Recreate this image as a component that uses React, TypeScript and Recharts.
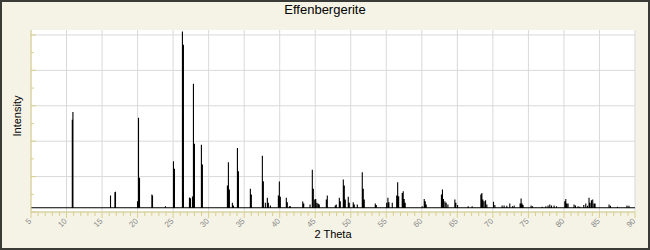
import React from 'react';
import { LineChart, Line, XAxis, YAxis, CartesianGrid } from 'recharts';

const chartTitle = 'Effenbergerite';
const xLabel = '2 Theta';
const yLabel = 'Intensity';

const baseline = 2.4;

const peakPos = [
  10.81, 10.9, 16.19, 16.81, 16.89, 19.99, 20.13, 20.27, 22.01, 22.1,
  23.92, 25.05, 25.19, 26.31, 26.45, 27.3, 27.44, 27.72, 27.86, 28.0,
  28.98, 29.12, 32.64, 32.78, 32.92, 33.34, 33.48, 34.05, 34.19, 35.87,
  36.01, 37.56, 37.7, 37.98, 38.26, 38.4, 38.69, 39.81, 39.95, 40.09,
  40.93, 41.07, 41.36, 41.5, 43.24, 43.38, 44.27, 44.59, 44.73, 44.93,
  45.07, 45.25, 45.43, 45.57, 46.56, 46.7, 47.82, 47.96, 48.39, 48.53,
  48.95, 49.09, 49.23, 49.65, 49.79, 50.35, 50.49, 50.92, 51.62, 51.76,
  51.9, 53.45, 53.59, 55.05, 55.23, 55.37, 55.84, 56.46, 56.6, 56.74,
  57.24, 57.38, 57.52, 57.66, 60.05, 60.34, 60.48, 60.62, 62.76, 62.9,
  63.04, 63.25, 63.43, 63.67, 64.65, 64.79, 65.03, 66.52, 67.08, 68.31,
  68.45, 68.59, 68.77, 68.97, 69.15, 70.09, 70.28, 71.3, 71.58, 71.96,
  72.38, 72.76, 72.99, 73.83, 73.97, 74.11, 74.25, 75.38, 75.58, 76.93,
  77.45, 77.77, 78.01, 78.25, 78.61, 78.95, 80.12, 80.26, 80.4, 80.58,
  81.42, 81.62, 81.99, 82.23, 82.79, 83.07, 83.31, 83.53, 83.67, 83.87,
  84.05, 84.24, 84.38, 86.35, 86.55, 87.53, 88.87, 89.15,
];

const peakInt = [
  52.1, 56.5, 9.3, 11.2, 11.5, 6.1, 53.2, 19.4, 9.9, 9.3,
  3.3, 28.6, 24.5, 101.9, 94.4, 8.2, 7.8, 8.7, 72.4, 38.6,
  38.0, 26.8, 14.9, 28.1, 12.7, 5.2, 3.7, 36.2, 23.0, 13.2,
  9.9, 31.8, 17.4, 5.2, 8.0, 5.2, 3.7, 9.3, 17.2, 8.6,
  8.0, 5.5, 3.3, 3.3, 5.9, 4.8, 4.2, 23.9, 13.1, 7.0,
  7.4, 5.2, 4.6, 4.2, 7.0, 9.3, 3.7, 4.2, 8.0, 6.1,
  18.3, 14.9, 7.0, 8.6, 5.2, 5.5, 4.2, 4.2, 22.4, 13.2,
  7.0, 4.8, 3.9, 5.2, 8.0, 5.5, 5.2, 9.3, 16.8, 8.9,
  10.8, 11.7, 7.4, 5.2, 3.3, 7.4, 6.1, 4.2, 9.9, 12.7,
  7.4, 6.1, 5.2, 4.2, 7.0, 5.2, 3.9, 3.3, 3.3, 9.9,
  10.8, 7.0, 6.1, 6.6, 4.2, 5.8, 3.9, 3.7, 3.7, 3.5,
  4.8, 3.3, 3.7, 4.8, 7.6, 4.8, 3.9, 3.7, 3.3, 3.0,
  3.3, 3.7, 4.2, 3.7, 3.7, 3.3, 6.1, 7.4, 4.8, 4.8,
  4.2, 3.7, 3.3, 3.0, 3.9, 4.8, 3.5, 8.0, 5.2, 6.6,
  7.0, 4.8, 4.8, 4.2, 3.5, 3.0, 3.7, 3.5,
];

const xMajorTicks = [5, 10, 15, 20, 25, 30, 35, 40, 45, 50, 55, 60, 65, 70, 75, 80, 85, 90];
const xAllTicks = Array.from({ length: 86 }, (_, i) => 5 + i);
const yMajorTicks = [0, 20, 40, 60, 80, 100];
const yAllTicks = [0, 10, 20, 30, 40, 50, 60, 70, 80, 90, 100];

const data = (() => {
  const pts: { x: number; y: number }[] = [{ x: 5, y: baseline }];
  peakPos.forEach((p, i) => {
    pts.push({ x: p, y: baseline }, { x: p, y: peakInt[i] }, { x: p, y: baseline });
  });
  pts.push({ x: 90, y: baseline });
  return pts;
})();

const axisColor = '#D9D08A';
const font = '"Liberation Sans", Arial, sans-serif';

const XTick = (props: any) => {
  const { x, y, payload } = props;
  const v = payload.value;
  const major = v % 5 === 0;
  const px = x + 1;
  const py = y + 9.5;
  return (
    <g>
      <line x1={x} x2={x} y1={y} y2={y + (major ? 6 : 4)} stroke={axisColor} />
      {major && (
        <text
          x={px}
          y={py}
          textAnchor="end"
          transform={`rotate(-45 ${px} ${py})`}
          fontSize={8}
          fill="#8a8a8a"
          fontFamily={font}
        >
          {v}
        </text>
      )}
    </g>
  );
};

const YTick = (props: any) => {
  const { x, y, payload } = props;
  const major = payload.value % 20 === 0;
  return <line x1={x} x2={x + (major ? 5 : 3)} y1={y} y2={y} stroke={axisColor} />;
};

export default function App() {
  return (
    <div
      style={{
        position: 'absolute',
        top: 0,
        left: 0,
        width: 650,
        height: 250,
        background: '#F5F3E6',
        overflow: 'hidden',
      }}
    >
      <LineChart width={650} height={250} data={data} margin={{ top: 30, right: 15, bottom: 8, left: 1 }}>
        <CartesianGrid
          fill="#ffffff"
          stroke="#D9D9D9"
          horizontalValues={yMajorTicks}
          verticalValues={xMajorTicks}
        />
        <XAxis
          type="number"
          dataKey="x"
          domain={[5, 90]}
          ticks={xAllTicks}
          interval={0}
          height={30}
          tickSize={0}
          tickMargin={0}
          tickLine={false}
          axisLine={{ stroke: axisColor }}
          tick={<XTick />}
          allowDataOverflow
        />
        <YAxis
          type="number"
          domain={[0, 102.8]}
          ticks={yAllTicks}
          interval={0}
          width={30}
          tickSize={0}
          tickMargin={0}
          tickLine={false}
          axisLine={{ stroke: axisColor }}
          tick={<YTick />}
          allowDataOverflow
        />
        <Line
          type="linear"
          dataKey="y"
          stroke="#000000"
          strokeWidth={1.1}
          dot={false}
          activeDot={false}
          isAnimationActive={false}
        />
      </LineChart>
      <svg
        width={650}
        height={250}
        style={{ position: 'absolute', top: 0, left: 0, pointerEvents: 'none' }}
      >
        <text x={325} y={14} textAnchor="middle" fontSize={13} fontFamily={font} fill="#000">
          {chartTitle}
        </text>
        <text
          x={21}
          y={116}
          textAnchor="middle"
          transform="rotate(-90 21 116)"
          fontSize={11}
          fontFamily={font}
          fill="#000"
        >
          {yLabel}
        </text>
        <text x={333} y={238} textAnchor="middle" fontSize={11} fontFamily={font} fill="#000">
          {xLabel}
        </text>
      </svg>
      <div
        style={{
          position: 'absolute',
          top: 0,
          left: 0,
          width: 650,
          height: 250,
          boxSizing: 'border-box',
          border: '2px solid #3A3A36',
          pointerEvents: 'none',
        }}
      />
    </div>
  );
}
